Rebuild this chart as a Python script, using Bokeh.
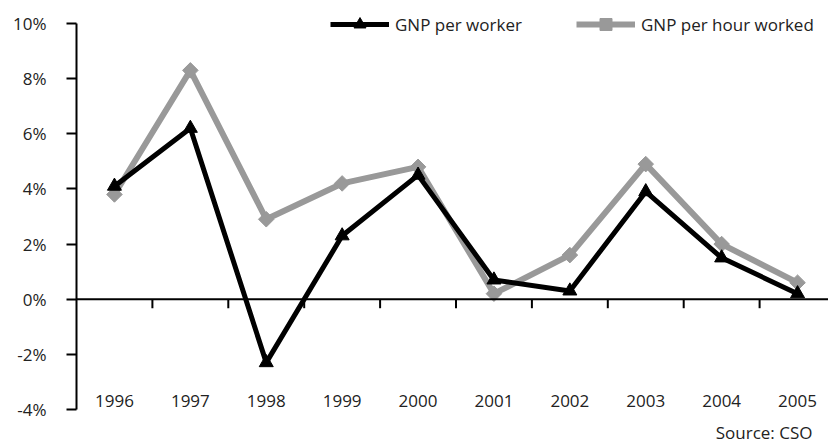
from bokeh.plotting import figure
from bokeh.models import (Range1d, LinearAxis, FixedTicker, Span, Legend, LegendItem,
                          ColumnDataSource, LabelSet, Label)
from bokeh.embed import file_html
from bokeh.resources import INLINE
from bokeh.core.properties import value

years = ["1996", "1997", "1998", "1999", "2000", "2001", "2002", "2003", "2004", "2005"]
gnp_per_worker = [4.1, 6.2, -2.3, 2.3, 4.5, 0.7, 0.3, 3.9, 1.5, 0.2]
gnp_per_hour = [3.8, 8.3, 2.9, 4.2, 4.8, 0.2, 1.6, 4.9, 2.0, 0.6]
y_ticks = [-4, -2, 0, 2, 4, 6, 8, 10]
series_names = ["GNP per worker", "GNP per hour worked"]
source_text = "Source: CSO"

FONT = "Open Sans"
FS = "17px"
TXT = "#222222"
GRAY = "#999999"

W, H = 828, 446
LEFT = 76                 # plot area left edge (px)
TOP_PX, BOT_PX = 23, 409  # pixel rows of the top / bottom y ticks
CAT_PX = 75.9             # width of one category (px)

idx = list(range(len(years)))
n = len(years)
ymin, ymax = min(y_ticks), max(y_ticks)
ppu = (BOT_PX - TOP_PX) / (ymax - ymin)
y_lo = ymin - (H - BOT_PX) / ppu
y_hi = ymax + TOP_PX / ppu
x_hi = -0.5 + (W - LEFT) / CAT_PX

p = figure(width=W, height=H, output_backend="svg", toolbar_location=None,
           x_range=Range1d(-0.5, x_hi), y_range=Range1d(y_lo, y_hi),
           x_axis_location=None, y_axis_location=None,
           min_border_left=LEFT, min_border_right=0, min_border_top=0, min_border_bottom=0)
p.outline_line_color = None
p.xgrid.visible = False
p.ygrid.visible = False
p.background_fill_color = "white"
p.border_fill_color = "white"

yaxis = LinearAxis(ticker=FixedTicker(ticks=y_ticks), bounds=(ymin, ymax),
                   major_label_overrides={t: f"{t}%" for t in y_ticks})
yaxis.axis_line_width = 2
yaxis.axis_line_color = "black"
yaxis.major_tick_line_width = 2
yaxis.major_tick_line_color = "black"
yaxis.major_tick_out = 10
yaxis.major_tick_in = 0
yaxis.minor_tick_out = 0
yaxis.minor_tick_in = 0
yaxis.major_label_standoff = 20
yaxis.major_label_text_font = FONT
yaxis.major_label_text_font_size = FS
yaxis.major_label_text_color = TXT
p.add_layout(yaxis, "left")

# zero line
p.add_layout(Span(location=0, dimension="width", line_color="black", line_width=2))

# category boundary ticks hanging below the zero line
tick_px = 9
bx = [i + 0.5 for i in range(n - 1)]
p.segment(x0=bx, y0=[0] * len(bx), x1=bx, y1=[-tick_px / ppu] * len(bx),
          line_color="black", line_width=2)

# year labels
ysrc = ColumnDataSource(dict(x=idx, y=[ymin] * n, t=years))
p.add_layout(LabelSet(x="x", y="y", text="t", source=ysrc, y_offset=9,
                      text_align="center", text_baseline="middle",
                      text_font=value(FONT), text_font_size=FS, text_color=TXT))

# series
l2 = p.line(idx, gnp_per_hour, line_color=GRAY, line_width=6)
m2 = p.scatter(idx, gnp_per_hour, marker="square", angle=0.785398, size=11,
               fill_color=GRAY, line_color=GRAY)
l1 = p.line(idx, gnp_per_worker, line_color="black", line_width=5)
m1 = p.scatter(idx, gnp_per_worker, marker="triangle", size=14,
               fill_color="black", line_color="black")

def mk_legend(label, rends, x):
    lg = Legend(items=[LegendItem(label=label, renderers=rends)],
                location=(x, H - 39), orientation="horizontal",
                glyph_width=59, glyph_height=30, label_height=20,
                label_standoff=6, padding=0, margin=0, spacing=0,
                border_line_color=None, background_fill_alpha=0,
                label_text_font=FONT, label_text_font_size=FS,
                label_text_color=TXT, label_text_baseline="middle")
    p.add_layout(lg, "center")

mk_legend(series_names[0], [l1, m1], 330 - LEFT)
mk_legend(series_names[1], [l2, m2], 576 - LEFT)

p.add_layout(Label(x=812 - LEFT, y=H - 432, x_units="screen", y_units="screen",
                   text=source_text, text_align="right", text_baseline="middle",
                   text_font=FONT, text_font_size=FS, text_color=TXT))

open("out.html", "w").write(file_html(p, INLINE))
